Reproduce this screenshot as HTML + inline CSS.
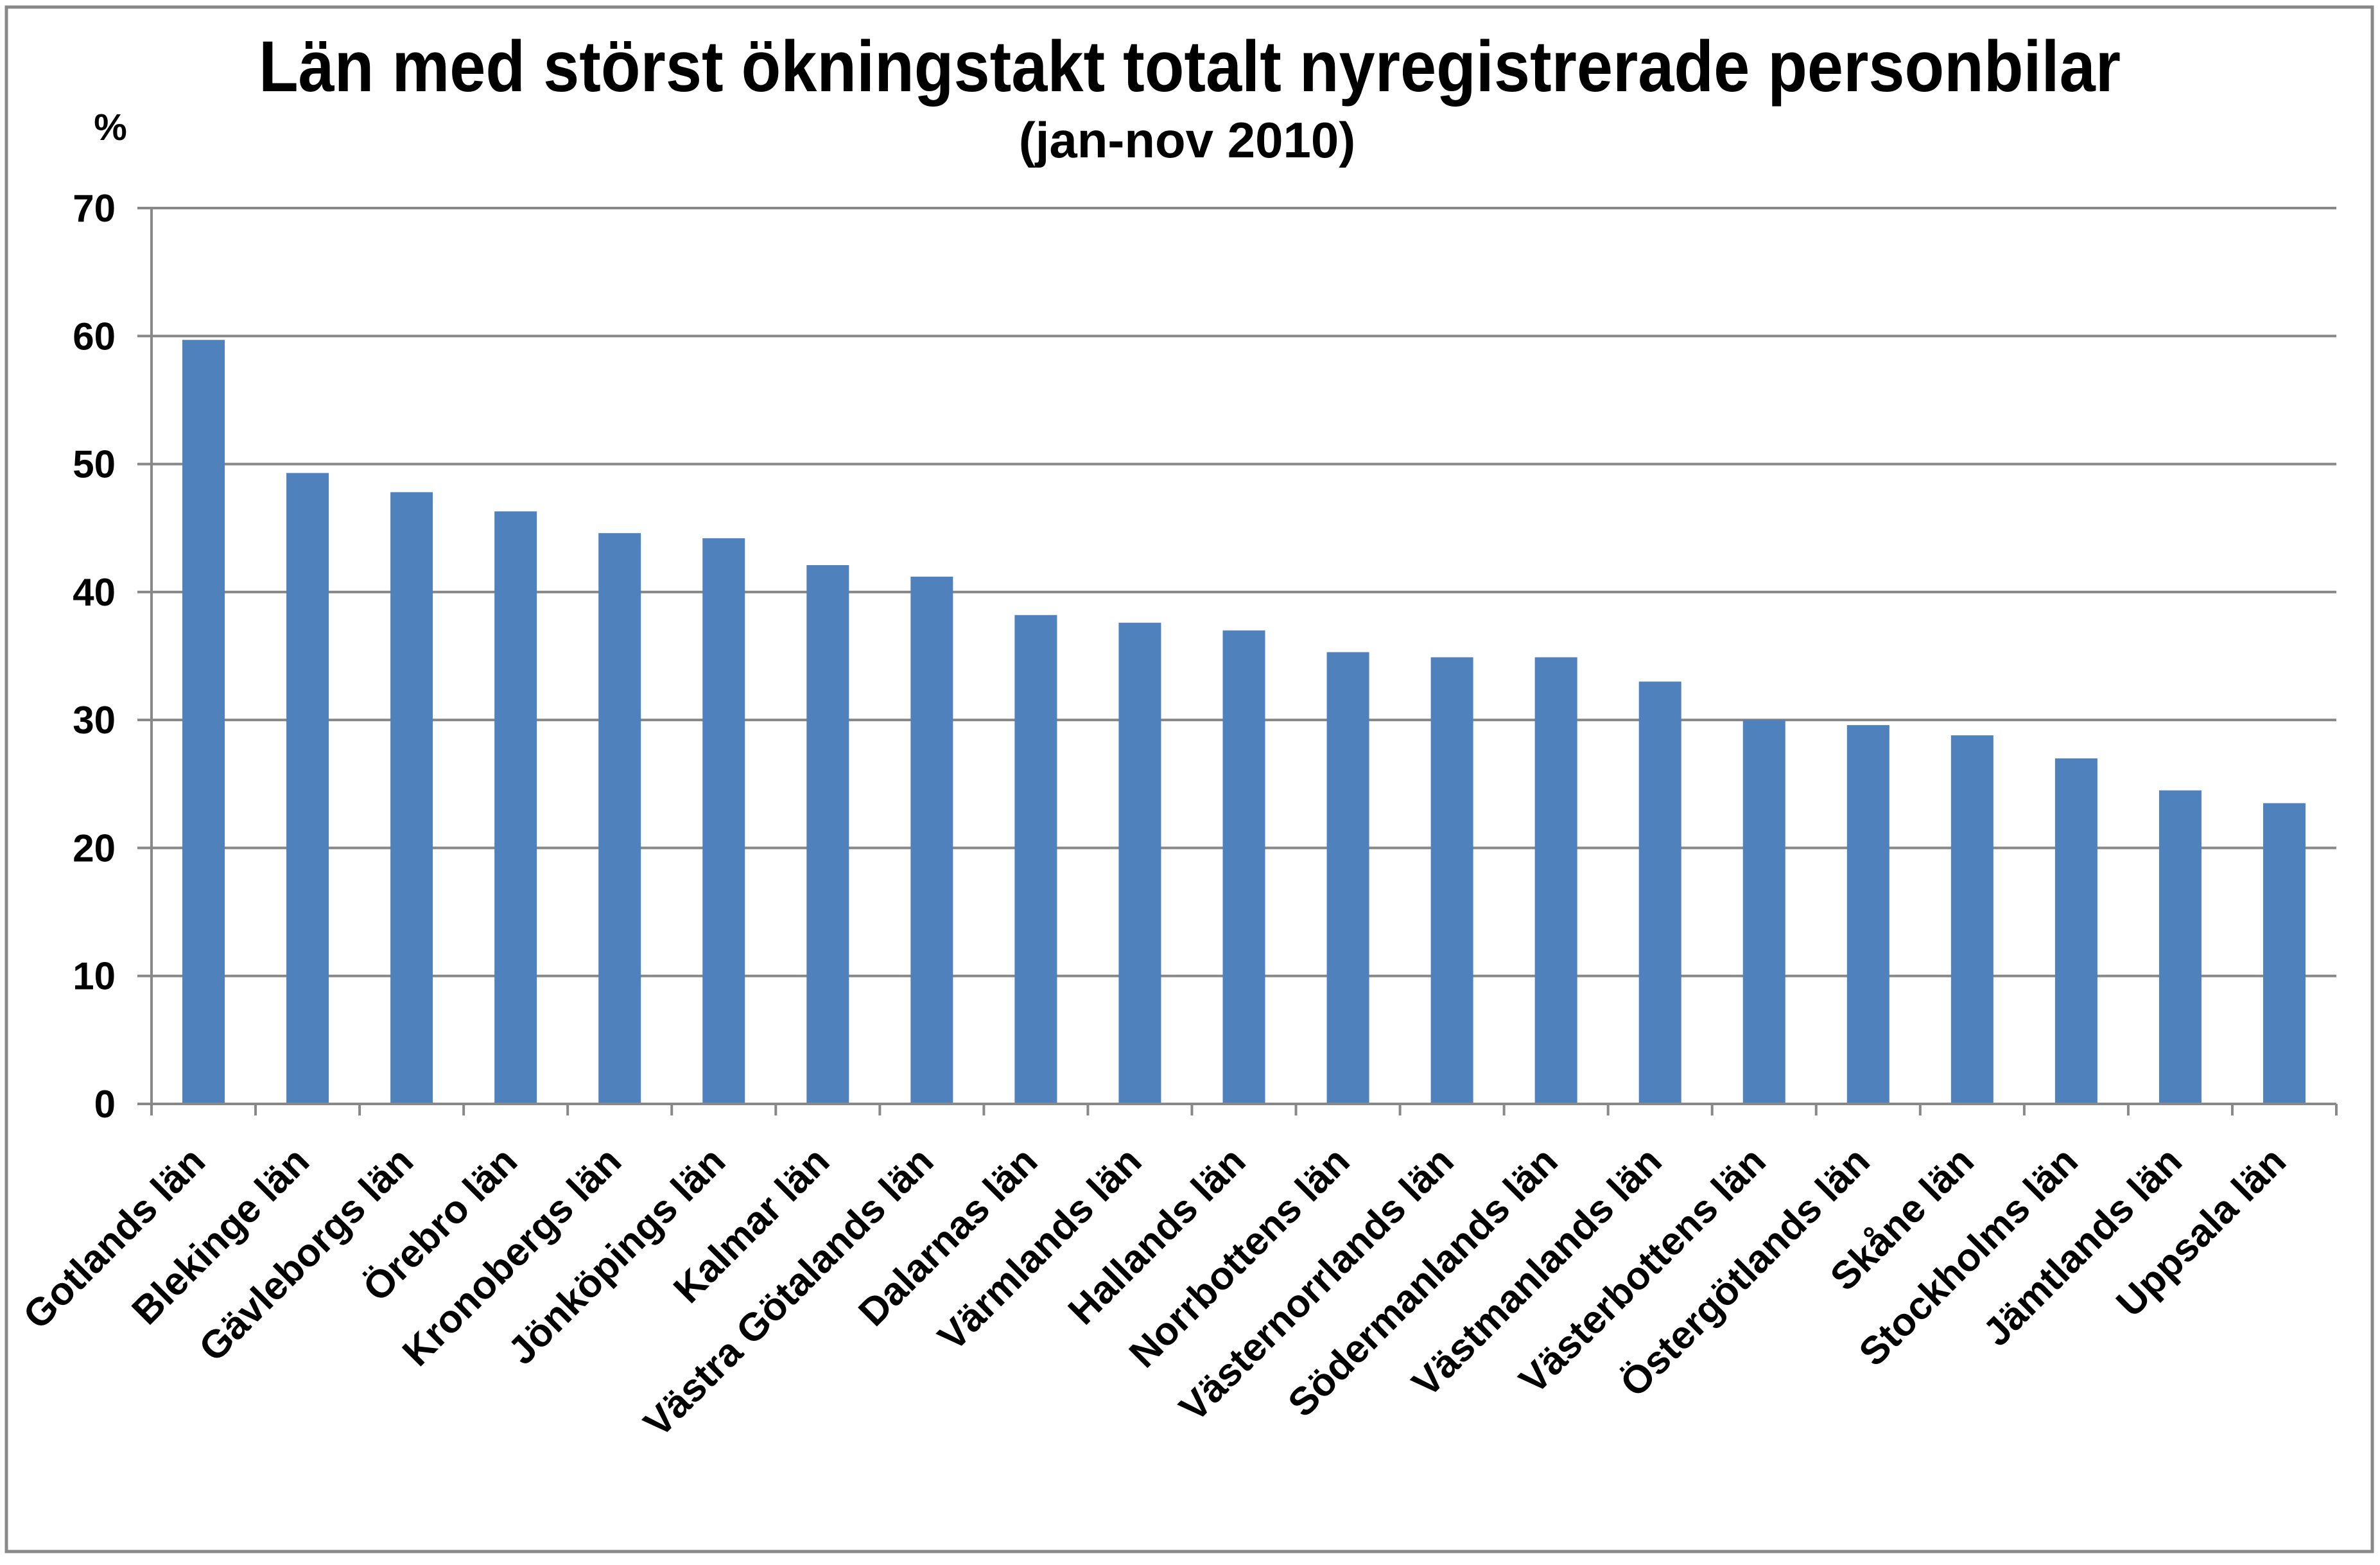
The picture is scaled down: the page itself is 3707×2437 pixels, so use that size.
<!DOCTYPE html>
<html><head><meta charset="utf-8"><style>
html,body{margin:0;padding:0;background:#fff}
svg text{font-family:"Liberation Sans",Arial,sans-serif;font-weight:bold;fill:#000}
</style></head><body>
<svg id="chart" width="3707" height="2432" viewBox="0 0 3707 2432" xmlns="http://www.w3.org/2000/svg">
<rect x="10" y="11" width="3685" height="2405" fill="#fff" stroke="#888" stroke-width="5"/>
<text x="1853" y="142" font-size="112" text-anchor="middle" textLength="2900" lengthAdjust="spacingAndGlyphs">Län med störst ökningstakt totalt nyregistrerade personbilar</text>
<text x="1849" y="245" font-size="78" text-anchor="middle">(jan-nov 2010)</text>
<text x="172" y="218" font-size="58" text-anchor="middle">%</text>
<g id="grid"></g>
<g id="bars"></g>
<g id="axes"></g>
<g id="labels"></g>
</svg>
<script>
const categories = ["Gotlands län","Blekinge län","Gävleborgs län","Örebro län","Kronobergs län","Jönköpings län","Kalmar län","Västra Götalands län","Dalarnas län","Värmlands län","Hallands län","Norrbottens län","Västernorrlands län","Södermanlands län","Västmanlands län","Västerbottens län","Östergötlands län","Skåne län","Stockholms län","Jämtlands län","Uppsala län"];
const values = [59.7,49.3,47.8,46.3,44.6,44.2,42.1,41.2,38.2,37.6,37.0,35.3,34.9,34.9,33.0,30.0,29.6,28.8,27.0,24.5,23.5];
const yTicks = [0,10,20,30,40,50,60,70];

const NS="http://www.w3.org/2000/svg";
const X0=236, X1=3639, Y0=1719, Y1=324, YMAX=70;
const band=(X1-X0)/categories.length, barW=66;
const y=v=>Y0-(v/YMAX)*(Y0-Y1);
const xc=i=>X0+band*(i+0.5);
function mk(tag,attrs,parent){const e=document.createElementNS(NS,tag);for(const k in attrs)e.setAttribute(k,attrs[k]);document.getElementById(parent).appendChild(e);return e;}

yTicks.forEach(t=>{
  const l=mk('line',{x1:X0-22,x2:X1,y1:y(t),y2:y(t),stroke:'#888','stroke-width':4},'grid');
  
  
  const tx=mk('text',{x:X0-56,y:y(t)+21,'font-size':60,'text-anchor':'end'},'axes');
  tx.textContent=t;
  
  
});
values.forEach((v,i)=>{
  const r=mk('rect',{x:xc(i)-barW/2,y:y(v),width:barW,height:Y0-y(v),fill:'#4F81BD'},'bars');
  
  
});
const ya=mk('line',{x1:X0,x2:X0,y1:Y1,y2:Y0,stroke:'#888','stroke-width':4},'axes');


const xa=mk('line',{x1:X0,x2:X1,y1:Y0,y2:Y0,stroke:'#888','stroke-width':4},'axes');


for(let i=0;i<=categories.length;i++){
  const tk=mk('line',{x1:X0+band*i,x2:X0+band*i,y1:Y0,y2:Y0+18,stroke:'#888','stroke-width':4},'axes');
  
  
}
categories.forEach((c,i)=>{
  const ax=xc(i)+6, ay=1812;
  const t=mk('text',{x:ax,y:ay,'font-size':61,'text-anchor':'end',transform:`rotate(-45 ${ax} ${ay})`},'labels');
  t.textContent=c;
  
  
});
</script>
</body></html>
